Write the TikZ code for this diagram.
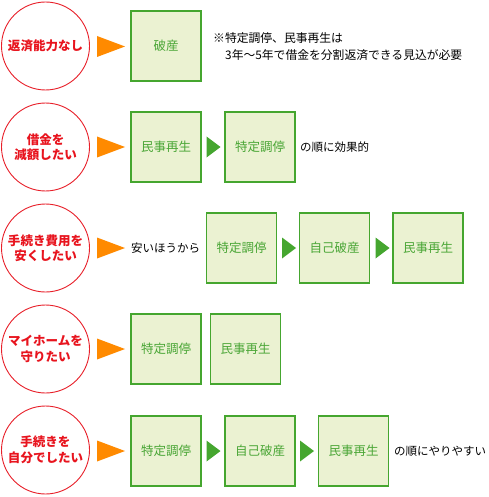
\documentclass[tikz,border=0pt]{standalone}
\usepackage{fontspec}
\setmainfont{Noto Sans CJK JP}
\newfontfamily\jp{Noto Sans CJK JP}
\definecolor{cred}{HTML}{E8202A}
\definecolor{ctxtred}{HTML}{E8141E}
\definecolor{corange}{HTML}{FF8A00}
\definecolor{cgreen}{HTML}{45A62F}
\definecolor{cgtext}{HTML}{4AA636}
\definecolor{cfill}{HTML}{EBF2D2}
\tikzset{
  goal/.style={circle, draw=cred, line width=0.9pt, fill=white, minimum size=88pt, inner sep=0pt,
    align=center, text=ctxtred, font=\jp\bfseries\fontsize{12.5}{15.5}\selectfont},
  option/.style={rectangle, draw=cgreen, line width=1.1pt, fill=cfill, minimum width=70pt, minimum height=70pt,
    inner sep=0pt, text=cgtext, font=\jp\fontsize{12.5}{15}\selectfont},
  remark/.style={inner sep=0pt, anchor=west, text=black, font=\jp\fontsize{11.5}{14}\selectfont},
  note/.style={remark, font=\jp\fontsize{11.8}{14}\selectfont},
  otri/.pic={\fill[corange] (-14,-10.5) -- (14,0) -- (-14,10.5) -- cycle;},
  gtri/.pic={\fill[cgreen] (-7,-10.5) -- (7,0) -- (-7,10.5) -- cycle;}
}
\begin{document}
\begin{tikzpicture}[x=1pt,y=-1pt]
\useasboundingbox (0,0) rectangle (488,497);
% Row 1
\node[goal] (g1) at (45.5,46) {返済能力なし};
\pic at (111,46.5) {otri};
\node[option] (b11) at (166,46) {破産};
\node[note] (n1a) at (213,38) {※特定調停、民事再生は};
\node[note] (n1b) at (225,55) {3年～5年で借金を分割返済できる見込が必要};
% Row 2
\node[goal] (g2) at (45.5,147) {借金を\\減額したい};
\pic at (111,147) {otri};
\node[option] (b21) at (166,147) {民事再生};
\pic at (213.5,147) {gtri};
\node[option] (b22) at (260,147) {特定調停};
\node[remark] (t2) at (300,147) {の順に効果的};
% Row 3
\node[goal] (g3) at (45.5,248) {手続き費用を\\安くしたい};
\pic at (111,248) {otri};
\node[remark] (t3) at (131,248) {安いほうから};
\node[option] (b31) at (241.5,248) {特定調停};
\pic at (289,248) {gtri};
\node[option] (b32) at (334.5,248) {自己破産};
\pic at (382.5,248) {gtri};
\node[option] (b33) at (428,248) {民事再生};
% Row 4
\node[goal] (g4) at (45.5,349) {マイホームを\\守りたい};
\pic at (111,349) {otri};
\node[option] (b41) at (166,349) {特定調停};
\node[option] (b42) at (245.5,349) {民事再生};
% Row 5
\node[goal] (g5) at (45.5,450) {手続きを\\自分でしたい};
\pic at (111,451) {otri};
\node[option] (b51) at (166,451) {特定調停};
\pic at (213.5,451) {gtri};
\node[option] (b52) at (260,451) {自己破産};
\pic at (307,451) {gtri};
\node[option] (b53) at (353.5,451) {民事再生};
\node[remark] (t5) at (394,451) {の順にやりやすい};
\end{tikzpicture}
\end{document}
